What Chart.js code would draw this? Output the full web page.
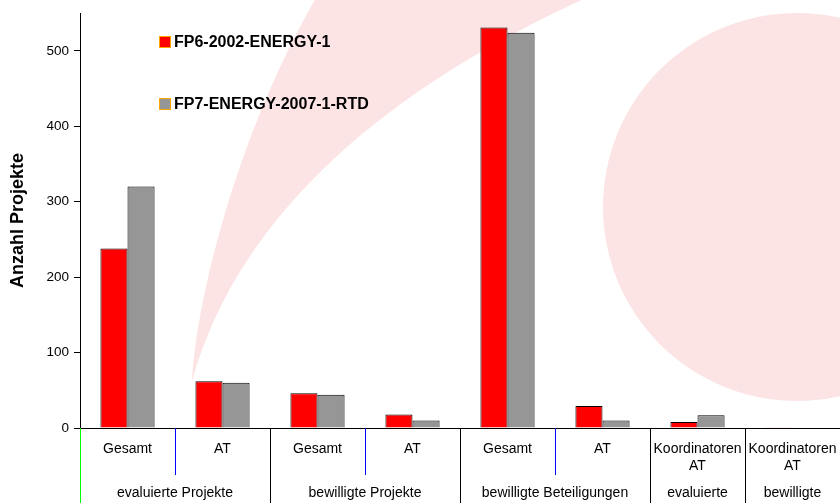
<!DOCTYPE html>
<html>
<head>
<meta charset="utf-8">
<script src="https://cdn.jsdelivr.net/npm/chart.js@4.4.0/dist/chart.umd.min.js"></script>
<style>
  html, body { margin: 0; padding: 0; background: #fff; overflow: hidden; }
  #wrap { width: 840px; height: 503px; }
</style>
</head>
<body>
<div id="wrap"><canvas id="proj-chart"></canvas></div>
<script>
// categories (inner row) and their groups (outer row)
const categories = ['Gesamt', 'AT', 'Gesamt', 'AT', 'Gesamt', 'AT', ['Koordinatoren', 'AT'], ['Koordinatoren', 'AT']];
const groups = [
  { label: 'evaluierte Projekte', from: 0, to: 1 },
  { label: 'bewilligte Projekte', from: 2, to: 3 },
  { label: 'bewilligte Beteiligungen', from: 4, to: 5 },
  { label: 'evaluierte', from: 6, to: 6 },
  { label: 'bewilligte', from: 7, to: 7 }
];
const fp6 = [238, 62, 46, 18, 531, 29, 8, 1];
const fp7 = [320, 60, 44, 10, 524, 10, 17, 0];
const yTicks = [0, 100, 200, 300, 400, 500];

const FONT = 'Arial, "Liberation Sans", sans-serif';

// pink decoration behind the chart
const backdrop = {
  id: 'backdrop',
  beforeDraw(chart) {
    const ctx = chart.ctx;
    ctx.save();
    ctx.fillStyle = '#fce4e5';
    ctx.beginPath();
    ctx.moveTo(192, 382);
    ctx.bezierCurveTo(198, 280, 250, 100, 330, -25);
    ctx.lineTo(640, -25);
    ctx.bezierCurveTo(430, 60, 245, 190, 192, 382);
    ctx.fill();
    ctx.beginPath();
    ctx.arc(797, 207, 194, 0, Math.PI * 2);
    ctx.fill();
    ctx.beginPath();
    ctx.restore();
  }
};

// separators, group labels and legend
const overlay = {
  id: 'overlay',
  afterDraw(chart) {
    const ctx = chart.ctx;
    const x = chart.scales.x;
    const area = chart.chartArea;
    const H = chart.height;
    const half = (x.getPixelForValue(1) - x.getPixelForValue(0)) / 2;
    const vline = (px, y0, y1, col) => {
      ctx.strokeStyle = col;
      ctx.beginPath();
      ctx.moveTo(px, y0);
      ctx.lineTo(px, y1);
      ctx.stroke();
    };
    ctx.save();
    ctx.lineWidth = 1;
    vline(Math.round(area.left) + 0.5, area.bottom, H, 'lime');
    groups.forEach((g, gi) => {
      if (gi < groups.length - 1) {
        vline(Math.round(x.getPixelForValue(g.to) + half) + 0.5, area.bottom, H, '#000');
      }
      for (let i = g.from; i < g.to; i++) {
        vline(Math.round(x.getPixelForValue(i) + half) + 0.5, area.bottom, area.bottom + 47, 'blue');
      }
      ctx.fillStyle = '#000';
      ctx.font = '14px ' + FONT;
      ctx.textAlign = 'center';
      ctx.textBaseline = 'middle';
      ctx.fillText(g.label, (x.getPixelForValue(g.from) + x.getPixelForValue(g.to)) / 2, 493);
    });
    const rows = [42, 104];
    chart.data.datasets.forEach((ds, i) => {
      const y = rows[i];
      ctx.fillStyle = ds.backgroundColor;
      ctx.fillRect(159.5, y - 5.5, 11, 11);
      ctx.strokeStyle = 'orange';
      ctx.strokeRect(159.5, y - 5.5, 11, 11);
      ctx.fillStyle = '#000';
      ctx.font = 'bold 16px ' + FONT;
      ctx.textAlign = 'left';
      ctx.textBaseline = 'middle';
      ctx.fillText(ds.label, 174, y + 1);
    });
    ctx.restore();
  }
};

const ctx = document.getElementById('proj-chart').getContext('2d');
new Chart(ctx, {
  type: 'bar',
  data: {
    labels: categories,
    datasets: [
      { label: 'FP6-2002-ENERGY-1', data: fp6, backgroundColor: '#ff0000', borderColor: '#000', borderWidth: 1 },
      { label: 'FP7-ENERGY-2007-1-RTD', data: fp7, backgroundColor: '#969696', borderColor: '#000', borderWidth: 1 }
    ]
  },
  options: {
    responsive: true,
    maintainAspectRatio: false,
    animation: false,
    layout: { padding: { top: 11, right: 0, left: 0, bottom: 0 } },
    datasets: { bar: { categoryPercentage: 0.57, barPercentage: 1.0 } },
    plugins: {
      legend: { display: false },
      tooltip: { enabled: false }
    },
    scales: {
      x: {
        offset: true,
        grid: { display: false },
        border: { display: true, color: '#000', width: 1 },
        ticks: {
          color: '#000',
          font: { family: FONT, size: 14, lineHeight: 1.25 },
          padding: 4,
          maxRotation: 0,
          autoSkip: false
        },
        afterFit(scale) {
          scale.height = 75;
          scale.paddingLeft = 0;
          scale.paddingRight = 0;
        }
      },
      y: {
        min: 0,
        max: 550,
        afterBuildTicks(scale) { scale.ticks = yTicks.map(v => ({ value: v })); },
        grid: { drawOnChartArea: false, drawTicks: true, tickLength: 6, color: '#000' },
        border: { display: true, color: '#000', width: 1 },
        ticks: {
          color: '#000',
          font: { family: FONT, size: 13.5 },
          padding: 5
        },
        title: {
          display: true,
          text: 'Anzahl Projekte',
          color: '#000',
          font: { family: FONT, size: 18, weight: 'bold' },
          padding: { top: 7, bottom: 0 }
        },
        afterFit(scale) { scale.width = 80; }
      }
    }
  },
  plugins: [backdrop, overlay]
});
</script>
</body>
</html>
